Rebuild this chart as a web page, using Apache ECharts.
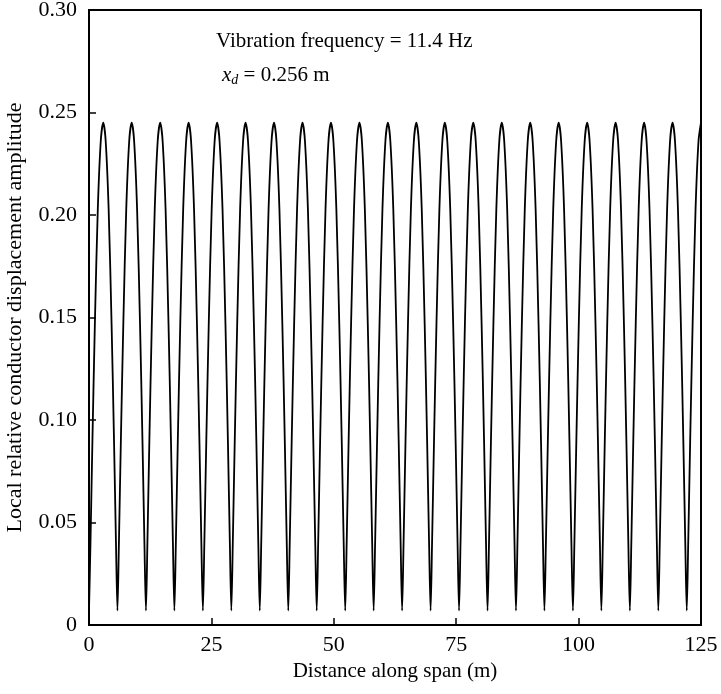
<!DOCTYPE html>
<html>
<head>
<meta charset="utf-8">
<script src="https://cdn.jsdelivr.net/npm/echarts@6/dist/echarts.min.js"></script>
<style>html,body{margin:0;padding:0;background:#fff}#c{width:721px;height:694px}</style>
</head>
<body>
<div id="c"></div>
<script>
// Trough positions (m)
const troughX = [0, 5.81, 11.63, 17.44, 23.26, 29.07, 34.88, 40.70, 46.51, 52.33, 58.14,
  63.95, 69.77, 75.58, 81.40, 87.21, 93.02, 98.84, 104.65, 110.47, 116.28, 122.09];
// Shape of one loop: offset from trough (m) and amplitude
const loopOffset = [0, 0.3, 0.7, 1.2, 1.8, 2.4, 2.91, 3.41, 4.01, 4.61, 5.11, 5.51];
const loopValue  = [0.007, 0.040, 0.090, 0.147, 0.203, 0.236, 0.245, 0.236, 0.203, 0.147, 0.090, 0.040];
const xTicks = [0, 25, 50, 75, 100, 125];
const yTicks = [0, 0.05, 0.10, 0.15, 0.20, 0.25, 0.30];
const spanEnd = 125;

const pts = [];
troughX.forEach(t => {
  loopOffset.forEach((o, i) => {
    const x = +(t + o).toFixed(2);
    if (x <= spanEnd) pts.push([x, loopValue[i]]);
  });
});

const font = '"Liberation Serif", "DejaVu Serif", serif';
const chart = echarts.init(document.getElementById('c'), null, {renderer: 'canvas'});
chart.setOption({
  animation: false,
  backgroundColor: '#fff',
  grid: {left: 89, right: 20, top: 10, bottom: 69, show: true, borderColor: '#000', borderWidth: 2,
    containLabel: false, outerBoundsMode: 'none'},
  xAxis: {
    type: 'value', min: xTicks[0], max: xTicks[xTicks.length-1], interval: 25,
    name: 'Distance along span (m)', nameLocation: 'middle', nameGap: 35,
    nameTextStyle: {fontFamily: font, fontSize: 21, color: '#000'},
    axisLine: {lineStyle: {color: '#000', width: 2}},
    axisTick: {inside: true, length: 7, lineStyle: {color: '#000', width: 1.5}},
    axisLabel: {fontFamily: font, fontSize: 22, color: '#000', margin: 9},
    splitLine: {show: false}
  },
  yAxis: {
    type: 'value', min: yTicks[0], max: yTicks[yTicks.length-1], interval: 0.05,
    name: 'Local relative conductor displacement amplitude', nameLocation: 'middle', nameGap: 63,
    nameTextStyle: {fontFamily: font, fontSize: 22, color: '#000'},
    axisLine: {lineStyle: {color: '#000', width: 2}},
    axisTick: {inside: true, length: 7, lineStyle: {color: '#000', width: 1.5}},
    axisLabel: {fontFamily: font, fontSize: 22, color: '#000', margin: 12,
      formatter: v => v === 0 ? '0' : v.toFixed(2)},
    splitLine: {show: false}
  },
  series: [{
    type: 'line', data: pts, showSymbol: false, smooth: 0.3,
    lineStyle: {color: '#000', width: 1.8}
  }],
  graphic: [
    {type: 'text', left: 216, top: 31, style: {text: 'Vibration frequency = 11.4 Hz', fontFamily: font, fontSize: 21, fill: '#000'}},
    {type: 'text', left: 222, top: 65, style: {
      text: '{i|x}{s|d}{n| = 0.256 m}',
      rich: {
        i: {fontFamily: font, fontSize: 21, fontStyle: 'italic', fill: '#000'},
        s: {fontFamily: font, fontSize: 14, fontStyle: 'italic', fill: '#000', padding: [10, 0, 0, 0]},
        n: {fontFamily: font, fontSize: 21, fill: '#000'}
      }
    }}
  ]
});
</script>
</body>
</html>
